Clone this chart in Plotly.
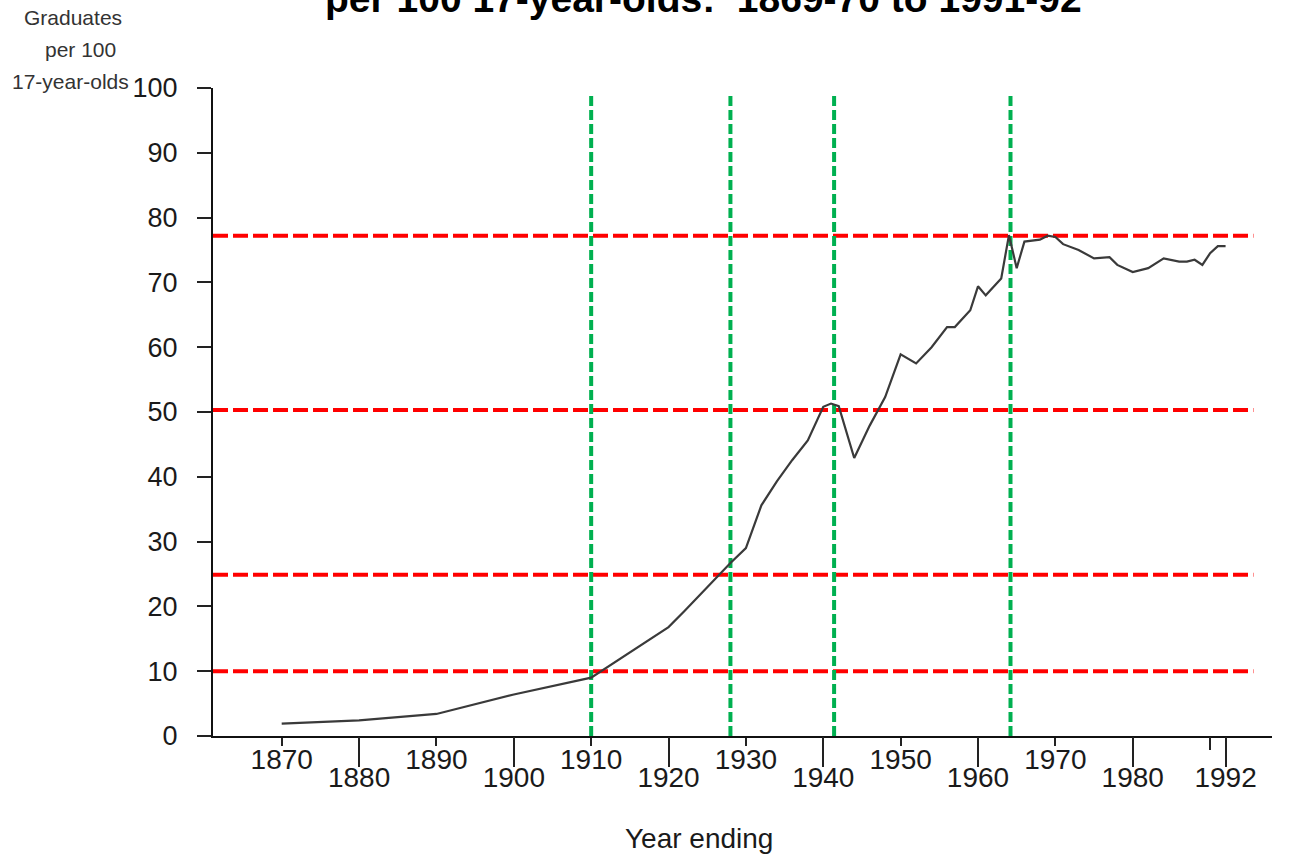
import plotly.graph_objects as go

# ---- data ----
years = [1870, 1880, 1890, 1900, 1910, 1920, 1922, 1924, 1926, 1928, 1930, 1932, 1934,
         1936, 1938, 1940, 1941, 1942, 1944, 1946, 1948, 1950, 1952, 1954, 1956, 1957,
         1959, 1960, 1961, 1963, 1964, 1965, 1966, 1967, 1968, 1969, 1970, 1971, 1973,
         1975, 1977, 1978, 1980, 1982, 1984, 1986, 1987, 1988, 1989, 1990, 1991, 1992]
graduates = [1.9, 2.4, 3.4, 6.4, 9.0, 16.8, 19.2, 21.7, 24.1, 26.7, 29.0, 35.6, 39.3,
             42.6, 45.6, 50.8, 51.3, 50.9, 42.9, 47.9, 52.3, 58.9, 57.5, 60.0, 63.1, 63.1,
             65.7, 69.4, 68.0, 70.6, 77.3, 72.2, 76.3, 76.4, 76.6, 77.2, 77.0, 75.9, 75.0,
             73.7, 73.9, 72.7, 71.6, 72.2, 73.7, 73.2, 73.2, 73.5, 72.7, 74.5, 75.6, 75.6]

red_levels = [10.0, 24.9, 50.3, 77.2]
green_years = [1910, 1928, 1941.4, 1964.2]

ticks_row1 = [1870, 1890, 1910, 1930, 1950, 1970]
ticks_row2 = [1880, 1900, 1920, 1940, 1960, 1980, 1992]
ticks_minor = [1990]
y_ticks = [0, 10, 20, 30, 40, 50, 60, 70, 80, 90, 100]

ylabel_lines = ["Graduates", "per 100", "17-year-olds"]

X_RANGE = [1861.12, 1998.0]
RED_END = 1995.6
GREEN_TOP = 98.9

W, H = 1289, 854
L, R, T, B = 213, 17, 88, 118

def px_x(px):
    return (px - L) / (W - L - R)

def px_y(py):
    return (H - B - py) / (H - T - B)

fig = go.Figure()

for lv in red_levels:
    fig.add_trace(go.Scatter(x=[X_RANGE[0], RED_END], y=[lv, lv], mode="lines",
                             line=dict(color="#ff0000", width=4, dash="15px,5px"),
                             hoverinfo="skip", showlegend=False))
for gy in green_years:
    fig.add_trace(go.Scatter(x=[gy, gy], y=[0, GREEN_TOP], mode="lines",
                             line=dict(color="#00b050", width=4, dash="10px,4px"),
                             hoverinfo="skip", showlegend=False))

fig.add_trace(go.Scatter(x=years, y=graduates, mode="lines",
                         line=dict(color="#3a3a3a", width=2.2),
                         showlegend=False))

# invisible traces to anchor extra axes
fig.add_trace(go.Scatter(x=[1900], y=[0], xaxis="x2", mode="markers",
                         marker=dict(opacity=0), hoverinfo="skip", showlegend=False))
fig.add_trace(go.Scatter(x=[1900], y=[0], xaxis="x3", mode="markers",
                         marker=dict(opacity=0), hoverinfo="skip", showlegend=False))

tickfont = dict(family="Arial, Liberation Sans, sans-serif", size=28, color="#1a1a1a")

fig.update_layout(
    width=W, height=H,
    margin=dict(l=L, r=R, t=T, b=B),
    paper_bgcolor="white", plot_bgcolor="white",
    xaxis=dict(range=X_RANGE, showgrid=False, zeroline=False,
               showline=True, linecolor="#111", linewidth=2,
               ticks="outside", ticklen=8, tickwidth=2, tickcolor="#222",
               tickvals=ticks_row1, ticktext=[str(v) for v in ticks_row1],
               tickfont=tickfont, ticklabelstandoff=-11),
    xaxis2=dict(range=X_RANGE, overlaying="x", anchor="y", side="bottom",
                showgrid=False, zeroline=False, showline=False,
                ticks="outside", ticklen=30, tickwidth=2, tickcolor="#222",
                tickvals=ticks_row2, ticktext=[str(v) for v in ticks_row2],
                tickfont=tickfont, ticklabelstandoff=-14),
    xaxis3=dict(range=X_RANGE, overlaying="x", anchor="y", side="bottom",
                showgrid=False, zeroline=False, showline=False,
                ticks="outside", ticklen=13, tickwidth=2, tickcolor="#222",
                tickvals=ticks_minor, showticklabels=False),
    yaxis=dict(range=[0, 100], showgrid=False, zeroline=False,
               showline=True, linecolor="#111", linewidth=2,
               ticks="outside", ticklen=14, tickwidth=2, tickcolor="#222",
               tickvals=y_ticks, ticktext=[str(v) for v in y_ticks],
               tickfont=dict(family="Arial, Liberation Sans, sans-serif",
                             size=27, color="#1a1a1a"),
               ticklabelstandoff=14),
)

fig.add_annotation(text="<b>per 100 17-year-olds:  1869-70 to 1991-92</b>",
                   xref="paper", yref="paper", x=px_x(703), y=px_y(-2),
                   xanchor="center", yanchor="middle", showarrow=False,
                   font=dict(family="Arial, Liberation Sans, sans-serif", size=39, color="#000"))

for txt, cx, cy in zip(ylabel_lines, [73, 80, 70], [18, 50, 81]):
    fig.add_annotation(text=txt, xref="paper", yref="paper", x=px_x(cx), y=px_y(cy),
                       xanchor="center", yanchor="middle", showarrow=False,
                       font=dict(family="Arial, Liberation Sans, sans-serif", size=21, color="#333"))

fig.add_annotation(text="Year ending",
                   xref="paper", yref="paper", x=px_x(699), y=px_y(838),
                   xanchor="center", yanchor="middle", showarrow=False,
                   font=dict(family="Arial, Liberation Sans, sans-serif", size=28, color="#1a1a1a"))

fig.write_html("out.html", config={"displayModeBar": False},
               post_script="document.body.style.margin='0';")
